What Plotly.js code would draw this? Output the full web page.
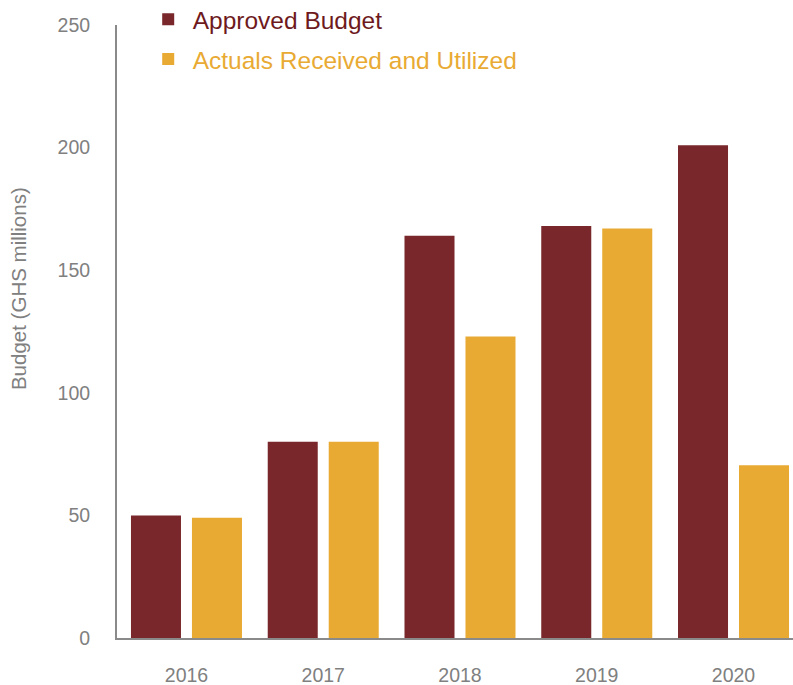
<!DOCTYPE html>
<html>
<head>
<meta charset="utf-8">
<script src="https://cdn.plot.ly/plotly-3.0.1.min.js"></script>
<style>html,body{margin:0;padding:0;background:#fff;}#chart{width:793px;height:685px;}</style>
</head>
<body>
<div id="chart"></div>
<script>
const years = ["2016", "2017", "2018", "2019", "2020"];
const approvedBudget = [50, 80, 164, 168, 201];
const actualsReceived = [49, 80, 123, 167, 70.5];
const yTicks = [0, 50, 100, 150, 200, 250];
const yTitle = "Budget (GHS millions)";

const approvedColor = "#79272A";
const actualsColor = "#E9AA33";
const approvedTextColor = "#6E1A1D";

const data = [
  {
    type: "bar", x: years, y: approvedBudget,
    name: '<span style="color:' + approvedTextColor + '">Approved Budget</span>',
    marker: {color: approvedColor}, legendgroup: "a", hoverinfo: "x+y"
  },
  {
    type: "bar", x: years, y: actualsReceived,
    name: '<span style="color:' + actualsColor + '">Actuals Received and Utilized</span>',
    marker: {color: actualsColor}, legendgroup: "b", hoverinfo: "x+y"
  }
];

const layout = {
  width: 793, height: 685,
  margin: {l: 117, r: 0, t: 25, b: 47, autoexpand: false},
  paper_bgcolor: "#fff", plot_bgcolor: "#fff",
  font: {family: "Liberation Sans, Arial, sans-serif", color: "#808080"},
  barmode: "group", bargap: 0.108, bargroupgap: 0.18,
  xaxis: {
    type: "category", range: [-0.508, 4.435],
    showline: true, linecolor: "#8a8a8a", linewidth: 2,
    ticks: "", tickfont: {size: 19.5, color: "#808080"}, ticklabelstandoff: 19,
    showgrid: false, zeroline: false
  },
  yaxis: {
    range: [0, 250], tickvals: yTicks, ticktext: yTicks.map(String),
    showline: true, linecolor: "#8a8a8a", linewidth: 2,
    ticks: "", tickfont: {size: 19.5, color: "#808080"}, ticklabelstandoff: 21,
    showgrid: false, zeroline: false
  },
  annotations: [{
    text: yTitle, xref: "paper", yref: "paper",
    x: -0.1464, y: 0.5693, xanchor: "center", yanchor: "middle",
    textangle: -90, showarrow: false,
    font: {size: 20.5, color: "#808080"}
  }],
  legend: {
    x: 0.0395, y: 1.046, xanchor: "left", yanchor: "top",
    traceorder: "grouped", tracegroupgap: 5, itemwidth: 39,
    font: {size: 24.5}, bgcolor: "rgba(0,0,0,0)"
  },
  showlegend: true
};

Plotly.newPlot("chart", data, layout, {displayModeBar: false, staticPlot: true});
</script>
</body>
</html>
